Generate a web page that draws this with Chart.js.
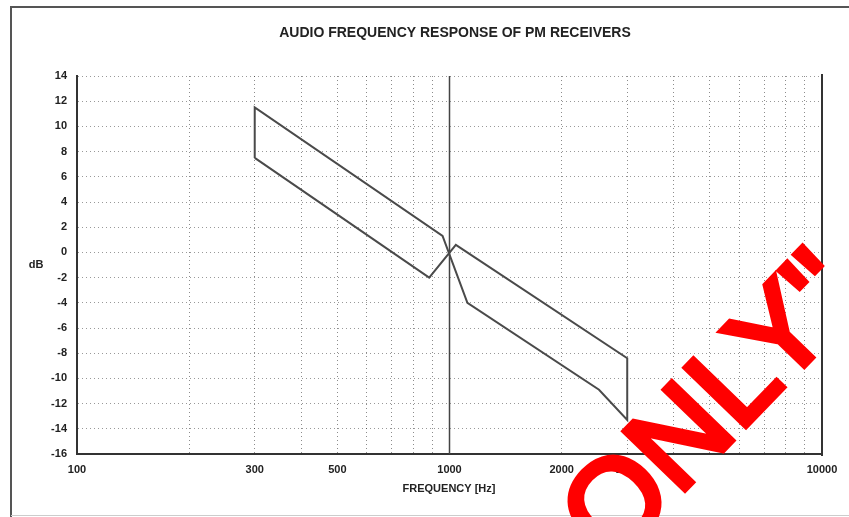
<!DOCTYPE html>
<html>
<head>
<title>Audio Frequency Response of PM Receivers</title>
<script src="https://cdn.jsdelivr.net/npm/chart.js"></script>
<style>
    body { margin: 0; background: #fff; }
    #wrap { width: 849px; height: 517px; }
</style>
</head>
<body>
<div id="wrap"><canvas id="responseChart" width="849" height="517"></canvas></div>
<script>
    // outline of the response mask, traced round from the 300 Hz edge
    const maskFreq = [300, 300, 958, 1117, 2520, 3000, 3000, 1040, 882, 300];
    const maskDb   = [7.5, 11.5, 1.3, -4.0, -10.9, -13.3, -8.4, 0.6, -2.0, 7.5];

    // the dark reference line at 1 kHz
    const refFreq = [1000, 1000];
    const refDb   = [-16, 14];

    const gridFreqs = [100, 200, 300, 400, 500, 600, 700, 800, 900,
                       1000, 2000, 3000, 4000, 5000, 6000, 7000, 8000, 9000, 10000];
    const labelledFreqs = [100, 300, 500, 1000, 2000, 3000, 10000];
    const dbTicks = [-16, -14, -12, -10, -8, -6, -4, -2, 0, 2, 4, 6, 8, 10, 12, 14];

    const FONT = "'Liberation Sans', Arial, sans-serif";
    const toPoints = (xs, ys) => xs.map((x, i) => ({ x: x, y: ys[i] }));

    const extras = {
        id: 'extras',
        beforeDraw(chart) {
            const ctx = chart.ctx;
            ctx.save();
            ctx.fillStyle = '#fff';
            ctx.fillRect(0, 0, chart.width, chart.height);
            ctx.restore();
        },
        afterDraw(chart) {
            const ctx = chart.ctx;
            const a = chart.chartArea;
            ctx.save();

            // scanned page frame
            ctx.strokeStyle = '#555';
            ctx.lineWidth = 2;
            ctx.beginPath();
            ctx.moveTo(11, 517);
            ctx.lineTo(11, 7);
            ctx.lineTo(849, 7);
            ctx.stroke();
            ctx.strokeStyle = '#ccc';
            ctx.lineWidth = 1;
            ctx.beginPath();
            ctx.moveTo(11, 515.5);
            ctx.lineTo(849, 515.5);
            ctx.stroke();

            // right edge of plot
            ctx.strokeStyle = '#333';
            ctx.lineWidth = 2;
            ctx.beginPath();
            ctx.moveTo(a.right, a.top - 2);
            ctx.lineTo(a.right, a.bottom + 2);
            ctx.stroke();

            ctx.fillStyle = '#222';
            ctx.textAlign = 'center';
            ctx.textBaseline = 'middle';
            ctx.font = 'bold 14px ' + FONT;
            ctx.fillText('AUDIO FREQUENCY RESPONSE OF PM RECEIVERS', 455, 33);
            ctx.font = 'bold 11px ' + FONT;
            ctx.fillText('FREQUENCY [Hz]', 449, 489);
            ctx.fillText('dB', 36, 265);

            // red stamp over the page (regular glyphs, thickened with a stroke)
            ctx.translate(612, 565);
            ctx.rotate(-46 * Math.PI / 180);
            ctx.fillStyle = 'rgb(255, 0, 0)';
            ctx.strokeStyle = 'rgb(255, 0, 0)';
            ctx.lineWidth = 6;
            ctx.lineJoin = 'miter';
            ctx.textAlign = 'left';
            ctx.textBaseline = 'alphabetic';
            ctx.font = '122px ' + FONT;
            ctx.fillText('ONLY"', 0, 0);
            ctx.strokeText('ONLY"', 0, 0);
            ctx.restore();
        }
    };

    new Chart(document.getElementById('responseChart'), {
        type: 'scatter',
        data: {
            datasets: [
                {
                    label: 'Response mask',
                    data: toPoints(maskFreq, maskDb),
                    showLine: true,
                    borderColor: '#4a4a4a',
                    borderWidth: 2,
                    pointRadius: 0,
                    tension: 0
                },
                {
                    label: '1 kHz',
                    data: toPoints(refFreq, refDb),
                    showLine: true,
                    borderColor: '#444',
                    borderWidth: 1.5,
                    pointRadius: 0
                }
            ]
        },
        options: {
            responsive: false,
            animation: false,
            events: [],
            layout: { padding: { top: 76, right: 27, left: 0, bottom: 0 } },
            plugins: {
                legend: { display: false },
                tooltip: { enabled: false }
            },
            scales: {
                x: {
                    type: 'logarithmic',
                    min: 100,
                    max: 10000,
                    afterBuildTicks: s => { s.ticks = gridFreqs.map(v => ({ value: v })); },
                    afterFit: s => { s.height = 63; },
                    ticks: {
                        autoSkip: false,
                        maxRotation: 0,
                        padding: 9,
                        color: '#222',
                        font: { family: FONT, size: 11, weight: 'bold' },
                        callback: v => labelledFreqs.includes(v) ? String(v) : ''
                    },
                    grid: { color: 'rgba(0,0,0,0.45)', lineWidth: 1, drawTicks: false },
                    border: { display: true, color: '#333', width: 2, dash: [1, 3] }
                },
                y: {
                    min: -16,
                    max: 14,
                    afterBuildTicks: s => { s.ticks = dbTicks.map(v => ({ value: v })); },
                    afterFit: s => { s.width = 77; },
                    ticks: {
                        padding: 10,
                        color: '#222',
                        font: { family: FONT, size: 11, weight: 'bold' }
                    },
                    grid: { color: 'rgba(0,0,0,0.4)', lineWidth: 1, drawTicks: false },
                    border: { display: true, color: '#333', width: 2, dash: [1, 3] }
                }
            }
        },
        plugins: [extras]
    });
</script>
</body>
</html>
